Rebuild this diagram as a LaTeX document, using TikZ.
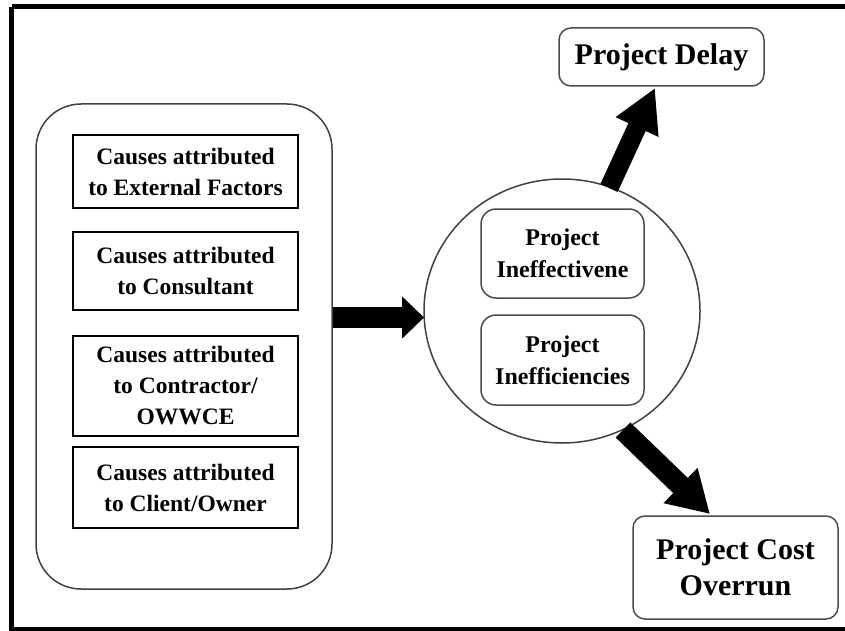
\documentclass[tikz,border=0pt]{standalone}
\usepackage{fontspec}
\setmainfont{Liberation Serif}
\usetikzlibrary{arrows.meta,shapes.geometric}
\tikzset{
  causebox/.style={draw=black, line width=1.5pt, minimum width=225pt, inner sep=0pt, align=center,
    font=\bfseries\fontsize{23.5}{31}\selectfont},
  softbox/.style={draw=black!70, line width=1.5pt, rounded corners=15pt, minimum width=163pt, inner sep=0pt, align=center,
    font=\bfseries\fontsize{24}{32}\selectfont},
  outbox/.style={draw=black!70, line width=1.5pt, rounded corners=12pt, inner sep=0pt, align=center,
    font=\bfseries\fontsize{30}{36}\selectfont},
  fatarrow/.style={line width=#1, draw=black},
}
\begin{document}
\begin{tikzpicture}[x=1pt,y=-1pt]
\useasboundingbox (0,0) rectangle (845,631);
% outer frame (right side cut off)
\draw[line width=5pt, black] (11.5,7) -- (870,7) (11.5,7) -- (11.5,629.5) -- (870,629.5);
% group box
\node[draw=black!75, line width=1.5pt, rounded corners=45pt, minimum width=296pt, minimum height=485pt, inner sep=0pt] (group) at (184,346.5) {};
\node[causebox, minimum height=73pt] (c1) at (185.5,171.5) {Causes attributed\\to External Factors};
\node[causebox, minimum height=78pt] (c2) at (185.5,271) {Causes attributed\\to Consultant};
\node[causebox, minimum height=100pt] (c3) at (185.5,386) {Causes attributed\\to Contractor/\\OWWCE};
\node[causebox, minimum height=81pt] (c4) at (185.5,487.5) {Causes attributed\\to Client/Owner};
% ellipse
\node[ellipse, draw=black!75, line width=1.5pt, minimum width=276pt, minimum height=264pt, inner sep=0pt] (circ) at (562,311) {};
\node[softbox, minimum height=89pt] (ineff) at (562.5,253.5) {Project\\Ineffectivene};
\node[softbox, minimum height=90pt] (ineffc) at (562.5,360) {Project\\Inefficiencies};
% outcomes
\node[outbox, minimum width=205pt, minimum height=58pt] (delay) at (661.5,57) {Project Delay};
\node[outbox, minimum width=205pt, minimum height=103pt] (cost) at (735.5,567.5) {Project Cost\\Overrun};
% arrows
\coordinate (h1) at (333,317.5);
\coordinate (h2) at (424,317.5);
\coordinate (u1) at (609,188);
\coordinate (u2) at (655,88);
\coordinate (d1) at (623,430);
\coordinate (d2) at (710,514);
\draw[fatarrow=21pt, -{Triangle[length=22pt, width=41pt]}] (h1) -- (h2);
\draw[fatarrow=19pt, -{Triangle[length=43pt, width=44pt]}] (u1) -- (u2);
\draw[fatarrow=21pt, -{Triangle[length=41pt, width=46pt]}] (d1) -- (d2);
\end{tikzpicture}
\end{document}
